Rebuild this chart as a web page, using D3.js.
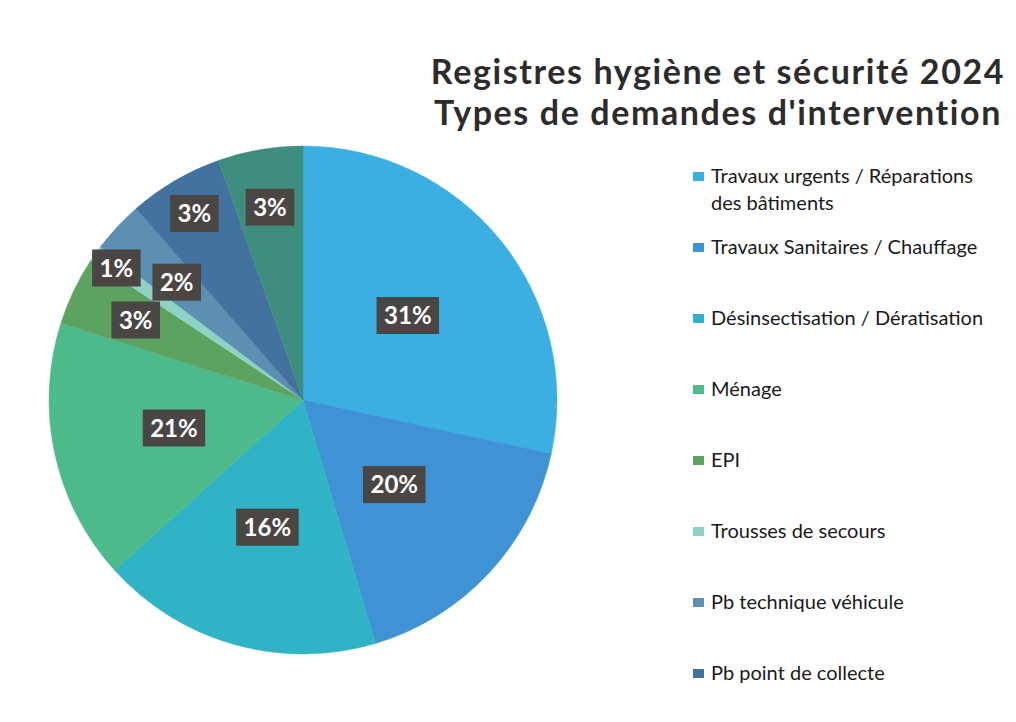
<!DOCTYPE html>
<html>
<head>
<meta charset="utf-8">
<script src="https://cdn.jsdelivr.net/npm/d3@7"></script>
<style>
  html, body { margin: 0; padding: 0; background: #fff; }
  svg { display: block; }
</style>
</head>
<body>
<svg id="chart" width="1016" height="722"></svg>
<script>
// ── Data ─────────────────────────────────────────────────────────────────────
const TITLE_LINES = [
  "Registres hygiène et sécurité 2024",
  "Types de demandes d'intervention"
];

const categories = [
  "Travaux urgents / Réparations des bâtiments",
  "Travaux Sanitaires / Chauffage",
  "Désinsectisation / Dératisation",
  "Ménage",
  "EPI",
  "Trousses de secours",
  "Pb technique véhicule",
  "Pb point de collecte",
  "Autres"
];

// slice shares as drawn in the picture (% of the full turn)
const shares = [28.4, 17.0, 17.9, 16.6, 4.4, 1.0, 3.3, 6.0, 5.4];

// data labels as printed on the chart
const labels = ["31%", "20%", "16%", "21%", "3%", "1%", "2%", "3%", "3%"];

const colors = [
  "#3bafe2", "#3f92d3", "#30b4c5", "#4dba8b",
  "#5ba35f", "#8ed2c6", "#5d8fb2", "#44729e", "#3e8e80"
];

// legend in the picture only shows the first 8 entries (rest cut off)
const LEGEND_COUNT = 8;

// ── Layout ───────────────────────────────────────────────────────────────────
const svg = d3.select("#chart");
const CX = 303, CY = 400, R = 254;
// distance of each label from centre, as a fraction of R (Excel best-fit)
const LABEL_R = [0.53, 0.49, 0.52, 0.52, 0.73, 0.9, 0.68, 0.85, 0.77];

// ── Title ────────────────────────────────────────────────────────────────────
svg.append("g")
  .selectAll("text")
  .data(TITLE_LINES)
  .join("text")
    .attr("x", 718)
    .attr("y", (d, i) => 84 + i * 41)
    .attr("text-anchor", "middle")
    .attr("font-family", "Lato, 'Open Sans', sans-serif")
    .attr("font-weight", 700)
    .attr("font-size", 34)
    .attr("letter-spacing", 1.6)
    .attr("fill", "#2c2c2c")
    .text(d => d);

// ── Pie ──────────────────────────────────────────────────────────────────────
const pie = d3.pie().sort(null).value(d => d)
  .startAngle(0).endAngle(2 * Math.PI);
const arcs = pie(shares);
const arc = d3.arc().innerRadius(0).outerRadius(R);

const gPie = svg.append("g").attr("transform", `translate(${CX},${CY})`);

gPie.selectAll("path")
  .data(arcs)
  .join("path")
    .attr("d", arc)
    .attr("fill", (d, i) => colors[i])
    .attr("stroke", (d, i) => colors[i])
    .attr("stroke-width", 0.5);

// labels: dark boxes with white bold text
const gLab = gPie.selectAll("g.lab")
  .data(arcs)
  .join("g")
    .attr("class", "lab")
    .attr("transform", (d, i) => {
      const a = (d.startAngle + d.endAngle) / 2;
      const r = R * LABEL_R[i];
      return `translate(${r * Math.sin(a)},${-r * Math.cos(a)})`;
    });

gLab.append("text")
  .attr("text-anchor", "middle")
  .attr("dy", "0.36em")
  .attr("font-family", "Lato, 'Open Sans', sans-serif")
  .attr("font-weight", 700)
  .attr("font-size", 24)
  .attr("fill", "#fff")
  .text((d, i) => labels[i]);

gLab.each(function () {
  const g = d3.select(this);
  const bb = g.select("text").node().getBBox();
  const w = bb.width + 15, h = 37;
  g.insert("rect", "text")
    .attr("x", -w / 2).attr("y", -h / 2)
    .attr("width", w).attr("height", h)
    .attr("fill", "#4a4644");
});

// ── Legend ───────────────────────────────────────────────────────────────────
const legendItems = categories.slice(0, LEGEND_COUNT);
const gLeg = svg.append("g");

const item = gLeg.selectAll("g")
  .data(legendItems)
  .join("g")
    .attr("transform", (d, i) => `translate(693,${183 + i * 71})`);

item.append("rect")
  .attr("x", 0).attr("y", -11)
  .attr("width", 11).attr("height", 9)
  .attr("fill", (d, i) => colors[i]);

item.append("text")
  .attr("x", 18)
  .attr("font-family", "Lato, 'Open Sans', sans-serif")
  .attr("font-size", 20)
  .attr("fill", "#1a1a1a")
  .each(function (d) {
    const t = d3.select(this);
    // first entry wraps like in the picture
    const lines = d.indexOf("Réparations") > 0
      ? ["Travaux urgents / Réparations", "des bâtiments"]
      : [d];
    lines.forEach((ln, j) => {
      t.append("tspan").attr("x", 18).attr("dy", j ? 27 : 0).text(ln);
    });
  });
</script>
</body>
</html>
